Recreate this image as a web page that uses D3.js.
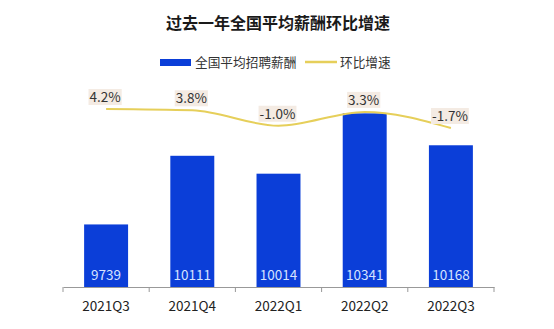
<!DOCTYPE html>
<html><head><meta charset="utf-8">
<script src="https://cdn.jsdelivr.net/npm/d3@7"></script>
<style>body{margin:0;background:#fff}svg{display:block}</style>
</head><body>
<script>
const categories = ["2021Q3","2021Q4","2022Q1","2022Q2","2022Q3"];
const salary = [9739,10111,10014,10341,10168];
const growth = [4.2,3.8,-1.0,3.3,-1.7];
const growthLabels = ["4.2%","3.8%","-1.0%","3.3%","-1.7%"];
const title = "过去一年全国平均薪酬环比增速";
const legendNames = ["全国平均招聘薪酬","环比增速"];

const W=554,H=329;
const svg=d3.select("body").append("svg").attr("width",W).attr("height",H);
const font="'Noto Sans CJK SC','Noto Sans',sans-serif";
const barColor="#0b3ed8", lineColor="#e6cf5a";

const x=d3.scaleBand().domain(categories).range([63,494]).paddingInner(0.49).paddingOuter(0.245);
const y=d3.scaleLinear().domain([9400,10500]).range([287,84]);
const y2=d3.scaleLinear().domain([-1.7,4.2]).range([128,109]);

svg.append("text").attr("x",278).attr("y",29).attr("text-anchor","middle")
  .attr("font-family",font).attr("font-weight","bold").attr("font-size",16).attr("fill","#1a1a1a").text(title);

// legend
svg.append("rect").attr("x",160).attr("y",59).attr("width",31).attr("height",7).attr("fill",barColor);
svg.append("text").attr("x",195).attr("y",67).attr("font-family",font).attr("font-size",12.7).attr("fill","#333").text(legendNames[0]);
svg.append("line").attr("x1",305).attr("x2",337).attr("y1",62).attr("y2",62).attr("stroke",lineColor).attr("stroke-width",2.5);
svg.append("text").attr("x",340).attr("y",67).attr("font-family",font).attr("font-size",12.7).attr("fill","#333").text(legendNames[1]);

// bars
svg.selectAll("rect.bar").data(salary).join("rect").attr("class","bar")
  .attr("x",(d,i)=>x(categories[i])).attr("width",x.bandwidth())
  .attr("y",d=>y(d)).attr("height",d=>y.range()[0]-y(d)).attr("fill",barColor);
svg.selectAll("text.val").data(salary).join("text").attr("class","val")
  .attr("x",(d,i)=>x(categories[i])+x.bandwidth()/2).attr("y",280)
  .attr("text-anchor","middle").attr("font-family",font).attr("font-size",13.5).attr("fill","#d6e3ff").text(d=>d);

// axis
const ax=svg.append("g").attr("transform","translate(0,287)")
  .call(d3.axisBottom(x).tickSize(0).tickPadding(14));
ax.select(".domain").attr("stroke","#999");
ax.selectAll("text").attr("font-family",font).attr("font-size",13.5).attr("fill","#222");
const bounds=[63].concat(categories.map(c=>x(c)+x.bandwidth()/2+x.step()/2));
svg.selectAll("line.tk").data(bounds).join("line").attr("class","tk")
  .attr("x1",d=>d).attr("x2",d=>d).attr("y1",287).attr("y2",292).attr("stroke","#999");

// line
const cx=i=>x(categories[i])+x.bandwidth()/2;
const line=d3.line().x((d,i)=>cx(i)).y(d=>y2(d)).curve(d3.curveMonotoneX);
svg.append("path").datum(growth).attr("d",line).attr("fill","none").attr("stroke",lineColor).attr("stroke-width",2);

// labels
const lg=svg.selectAll("g.lbl").data(growth).join("g").attr("class","lbl")
  .attr("transform",(d,i)=>`translate(${cx(i)-1},${y2(d)-12})`);
const bg=lg.append("rect").attr("fill","#f4ebe3");
const tx=lg.append("text").attr("y",5).attr("text-anchor","middle").attr("font-family",font).attr("font-size",13.5)
  .attr("fill","#333").text((d,i)=>growthLabels[i]);
tx.each(function(){
  const b=this.getBBox();
  d3.select(this.parentNode).select("rect").attr("x",b.x-1).attr("y",-8).attr("width",b.width+2).attr("height",16);
});
</script>
</body></html>
